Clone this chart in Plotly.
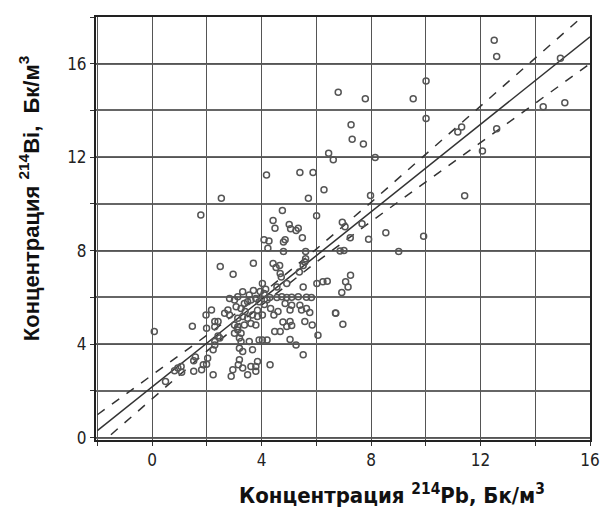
import plotly.graph_objects as go

# Scatter data: 214Pb (x) vs 214Bi (y), Bq/m3
pb_x = [6.80, 6.45, 6.62, 4.18, 5.40, 5.88, 6.28, 5.71, 2.53, 1.78, 4.76, 6.01, 4.42, 4.49,
        5.01, 5.06, 5.26, 6.95, 7.05, 7.67, 12.50, 12.59, 14.92, 7.79, 10.01, 9.54, 10.01,
        7.27, 7.31, 7.72, 8.15, 11.17, 11.31, 14.29, 15.08, 12.59, 12.07, 11.42, 7.98, 8.54,
        9.92, 7.91, 7.24, 9.01, 6.87, 7.01, 7.25, 7.07, 7.16, 6.93, 6.97, 6.70, 5.34, 5.49,
        5.61, 5.38, 6.02, 6.24, 6.40, 4.09, 4.27, 4.23, 4.86, 4.80, 4.80, 2.49, 2.96, 3.70,
        4.42, 4.53, 4.66, 4.68, 4.72, 4.03, 5.52, 5.58, 5.52, 4.56, 4.09, 4.92, 6.71, 6.06,
        5.52, 5.26, 5.04, 5.85, 5.58, 4.78, 5.04, 4.92, 5.10, 4.48, 4.68, 5.76, 5.64, 5.46,
        5.40, 5.10, 4.86, 4.56, 4.74, 4.92, 5.10, 5.34, 5.64, 5.82, 3.91, 4.03, 4.20, 3.55,
        3.25, 3.19, 3.31, 3.67, 3.19, 3.15, 3.31, 2.95, 2.89, 3.49, 3.61, 3.79, 3.85, 3.79,
        4.31, 2.23, 1.81, 1.87, 1.52, 0.82, 0.94, 1.06, 1.08, 0.49, 1.52, 1.58, 1.99, 2.03,
        1.47, 1.97, 1.99, 2.17, 2.29, 2.41, 2.29, 2.41, 2.29, 2.23, 2.29, 2.47, 2.65, 2.77,
        2.83, 2.83, 3.01, 3.13, 3.31, 3.07, 3.25, 3.37, 3.49, 3.61, 3.79, 3.91, 3.13, 3.31,
        3.49, 3.67, 3.85, 4.03, 3.01, 3.13, 3.37, 3.61, 3.79, 3.01, 3.25, 3.13, 3.19, 4.33,
        5.04, 0.08, 5.61, 3.95, 4.15, 3.70, 3.55, 4.30, 3.40, 3.85, 4.10, 4.20, 4.45, 4.60]
bi_y = [14.78, 12.17, 11.89, 11.24, 11.35, 11.35, 10.61, 10.24, 10.24, 9.53, 9.72, 9.50, 9.29, 8.96,
        9.12, 8.94, 8.86, 9.22, 9.03, 9.15, 17.00, 16.31, 16.24, 14.50, 15.26, 14.50, 13.66,
        13.39, 12.77, 12.57, 11.99, 13.08, 13.29, 14.16, 14.33, 13.22, 12.27, 10.35, 10.36, 8.77,
        8.62, 8.49, 8.55, 7.97, 7.99, 8.01, 6.95, 6.67, 6.45, 6.21, 4.85, 5.33, 8.96, 8.55,
        7.97, 7.09, 6.60, 6.67, 6.69, 8.47, 8.41, 8.11, 8.47, 8.37, 7.97, 7.32, 6.99, 7.46,
        7.45, 7.28, 7.37, 7.02, 6.88, 6.60, 7.37, 7.52, 6.45, 6.45, 6.17, 6.60, 5.32, 4.38,
        3.55, 3.97, 4.20, 4.82, 4.97, 4.95, 4.97, 4.76, 4.80, 4.54, 4.54, 5.36, 5.53, 5.46,
        5.67, 5.67, 5.74, 6.00, 6.03, 6.00, 6.01, 6.03, 6.01, 6.00, 4.18, 4.18, 4.18, 4.11,
        4.11, 3.83, 3.69, 3.76, 3.33, 3.12, 2.98, 2.91, 2.63, 2.69, 3.05, 3.05, 3.26, 2.84,
        3.12, 2.69, 2.91, 3.12, 2.84, 2.86, 2.98, 3.04, 2.80, 2.40, 3.29, 3.45, 3.14, 3.40,
        4.77, 5.25, 4.68, 5.46, 4.97, 4.97, 4.75, 4.35, 4.11, 3.76, 3.97, 4.26, 5.32, 5.46,
        5.25, 5.96, 5.89, 6.03, 6.24, 5.60, 5.53, 5.74, 5.82, 5.89, 5.96, 5.82, 5.11, 5.18,
        5.11, 5.25, 5.18, 5.25, 4.82, 4.75, 4.82, 4.89, 4.82, 4.47, 4.47, 4.61, 4.26, 5.53,
        5.46, 4.54, 7.66, 6.25, 6.35, 6.30, 6.10, 6.00, 5.40, 5.45, 5.70, 5.90, 5.25, 5.40]

# Regression line
fit_x = [-2, 16]
fit_y = [0.30, 17.15]

# Confidence band (dashed)
band_x = [-2, 0, 2, 4, 6, 8, 10, 12, 14, 16]
band_hi = [0.98, 2.67, 4.38, 6.15, 8.07, 10.07, 12.12, 14.17, 16.23, 18.30]
band_lo = [-0.38, 1.67, 3.70, 5.67, 7.51, 9.25, 10.94, 12.63, 14.31, 16.00]

x_ticks = [0, 4, 8, 12, 16]
y_ticks = [0, 4, 8, 12, 16]

line_col = "#333333"

fig = go.Figure()
fig.add_trace(go.Scatter(x=band_x, y=band_hi, mode="lines",
                         line=dict(color=line_col, width=1.5, dash="dash"), showlegend=False))
fig.add_trace(go.Scatter(x=band_x, y=band_lo, mode="lines",
                         line=dict(color=line_col, width=1.5, dash="dash"), showlegend=False))
fig.add_trace(go.Scatter(x=fit_x, y=fit_y, mode="lines",
                         line=dict(color=line_col, width=1.5), showlegend=False))
fig.add_trace(go.Scatter(x=pb_x, y=bi_y, mode="markers",
                         marker=dict(symbol="circle-open", size=6, color="#555555",
                                     line=dict(width=1.5)),
                         showlegend=False))

cond = "DejaVu Sans Condensed, Liberation Sans Narrow, Arial Narrow, Liberation Sans, sans-serif"
tickfont = dict(family=cond, size=17, color="#222")
fig.update_xaxes(range=[-2.05, 16.0], tickvals=x_ticks, ticktext=[str(v) for v in x_ticks],
                 showgrid=True, gridcolor="#555", gridwidth=1,
                 minor=dict(dtick=2, tick0=0, showgrid=True, gridcolor="#555", gridwidth=1,
                            ticks="outside", ticklen=4, tickcolor="#333"),
                 ticks="outside", ticklen=4, tickcolor="#333",
                 showline=True, mirror=True, linecolor="#222", linewidth=2,
                 zeroline=False, tickfont=tickfont)
fig.update_yaxes(range=[-0.1, 18.0], tickvals=y_ticks, ticktext=[str(v) for v in y_ticks],
                 showgrid=True, gridcolor="#555", gridwidth=1,
                 minor=dict(dtick=2, tick0=0, showgrid=True, gridcolor="#666", gridwidth=1.5,
                            ticks="outside", ticklen=4, tickcolor="#333"),
                 ticks="outside", ticklen=4, tickcolor="#333",
                 showline=True, mirror=True, linecolor="#222", linewidth=2,
                 zeroline=False, tickfont=tickfont)

fig.add_annotation(text="<b>Концентрация <sup>214</sup>Pb, Бк/м<sup>3</sup></b>",
                   xref="paper", yref="paper", x=0.60, y=-0.128, xanchor="center", yanchor="middle",
                   showarrow=False,
                   font=dict(family=cond, size=22, color="#111"))
fig.add_annotation(text="<b>Концентрация <sup>214</sup>Bi,  Бк/м<sup>3</sup></b>",
                   xref="paper", yref="paper", x=-0.135, y=0.57, xanchor="center", yanchor="middle",
                   textangle=-90, showarrow=False,
                   font=dict(family="Liberation Sans, Arial, sans-serif", size=22, color="#111"))

fig.update_layout(width=612, height=512, margin=dict(l=96, r=14, t=17, b=72),
                  paper_bgcolor="white", plot_bgcolor="white")
fig.write_html("out.html")
